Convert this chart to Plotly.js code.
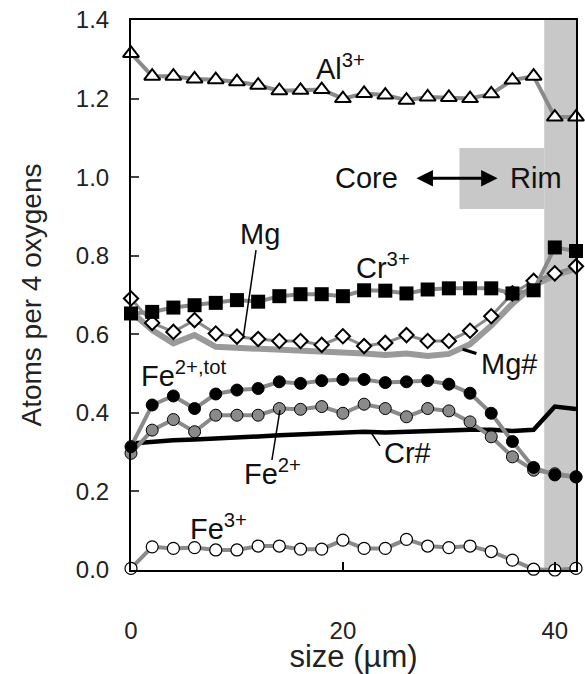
<!DOCTYPE html>
<html><head><meta charset="utf-8">
<script src="https://cdn.plot.ly/plotly-3.0.1.min.js"></script>
<style>body{margin:0;background:#fff}</style></head>
<body><div id="chart" style="width:585px;height:674px"></div>
<script>
const sizeUm = [0,2,4,6,8,10,12,14,16,18,20,22,24,26,28,30,32,34,36,38,40,42];
const al3 = [1.315,1.257,1.257,1.250,1.248,1.243,1.234,1.220,1.221,1.223,1.200,1.213,1.209,1.196,1.204,1.203,1.200,1.212,1.247,1.257,1.153,1.153];
const cr3 = [0.653,0.657,0.668,0.674,0.680,0.687,0.683,0.697,0.702,0.702,0.697,0.712,0.711,0.704,0.714,0.717,0.717,0.717,0.704,0.712,0.821,0.812];
const mg = [0.691,0.629,0.606,0.636,0.602,0.594,0.588,0.583,0.583,0.573,0.595,0.570,0.578,0.598,0.583,0.583,0.609,0.646,0.704,0.736,0.755,0.773];
const mgNum = [0.657,0.611,0.577,0.598,0.568,0.566,0.564,0.560,0.558,0.555,0.555,0.551,0.547,0.551,0.545,0.550,0.575,0.622,0.678,0.724,0.750,0.767];
const fe2tot = [0.314,0.420,0.443,0.411,0.448,0.458,0.462,0.479,0.475,0.482,0.485,0.485,0.477,0.479,0.482,0.473,0.450,0.399,0.327,0.261,0.242,0.237];
const fe2 = [0.297,0.356,0.383,0.352,0.394,0.394,0.394,0.411,0.409,0.416,0.399,0.422,0.411,0.390,0.411,0.405,0.377,0.339,0.288,0.254,0.245,0.237];
const crNum = [0.322,0.327,0.330,0.332,0.334,0.337,0.340,0.343,0.345,0.347,0.348,0.352,0.350,0.352,0.354,0.356,0.357,0.357,0.354,0.357,0.416,0.410];
const fe3 = [0.004,0.059,0.055,0.057,0.051,0.051,0.061,0.061,0.053,0.053,0.076,0.055,0.055,0.078,0.061,0.057,0.061,0.047,0.025,0.002,0.000,0.004];
const yTicks = [0,0.2,0.4,0.6,0.8,1.0,1.2,1.4];
const xTicks = [0,20,40];
const xTitle = 'size (µm)';
const yTitle = 'Atoms per 4 oxygens';

const FONT = 'Liberation Sans, Arial, sans-serif';
const G = '#8a8a8a';
function series(y, sym, size, fill, lw, lineCol, lineW){
  return {x:sizeUm, y:y, mode:'lines+markers', cliponaxis:false,
    line:{color:lineCol||G, width:lineW||4},
    marker:{symbol:sym, size:size, color:fill, line:{color:'#000', width:lw}}};
}
const fe3Trace = series(fe3,'circle',12,'#fff',1.2);
fe3Trace.xaxis = 'x2';
const traces = [
  {x:sizeUm, y:mgNum, mode:'lines', line:{color:'#9a9a9a', width:6}, cliponaxis:false},
  {x:sizeUm, y:crNum, mode:'lines', line:{color:'#000', width:4.5}, cliponaxis:false},
  series(al3,'triangle-up',14,'#fff',2),
  series(mg,'diamond',11,'#fff',2, G, 3),
  series(cr3,'square',14,'#000',0),
  series(fe2,'circle',12,G,1),
  series(fe2tot,'circle',12,'#000',1),
  fe3Trace
];
const AF = 29;
function ann(x,y,text,extra){
  return Object.assign({x:x,y:y,xref:'x',yref:'y',text:text,showarrow:false,
    font:{family:FONT,size:AF,color:'#111'},xanchor:'center',yanchor:'middle'}, extra||{});
}
const annotations = [
  ann(19.8,1.28,'Al<sup>3+</sup>'),
  ann(22.2,0.997,'Core'),
  ann(38.2,0.997,'Rim'),
  {x:34.6,y:0.997,ax:26.8,ay:0.997,axref:'x',ayref:'y',xref:'x',yref:'y',text:'',showarrow:true,
   arrowhead:2,startarrowhead:2,arrowside:'end+start',arrowwidth:3,arrowsize:1.1,startarrowsize:1.1,arrowcolor:'#000'},
  ann(12.2,0.855,'Mg'),
  ann(23.8,0.775,'Cr<sup>3+</sup>'),
  ann(35.7,0.525,'Mg#'),
  ann(5.0,0.50,'Fe<sup>2+,tot</sup>'),
  ann(13.4,0.25,'Fe<sup>2+</sup>'),
  ann(26.1,0.298,'Cr#'),
  ann(8.3,0.11,'Fe<sup>3+</sup>')
];
const shapes = [
  {type:'rect',xref:'x',yref:'paper',x0:39,x1:42,y0:0,y1:1,fillcolor:'#c8c8c8',line:{width:0},layer:'below'},
  {type:'rect',xref:'x',yref:'y',x0:31,x1:39,y0:0.919,y1:1.074,fillcolor:'#c8c8c8',line:{width:0},layer:'below'},
  {type:'line',xref:'x',yref:'y',x0:11.8,y0:0.814,x1:10.6,y1:0.593,line:{color:'#000',width:1.5}},
  {type:'line',xref:'x',yref:'y',x0:31.3,y0:0.562,x1:32.6,y1:0.551,line:{color:'#000',width:3}},
  {type:'line',xref:'x',yref:'y',x0:14.06,y0:0.407,x1:13.3,y1:0.280,line:{color:'#000',width:1.5}},
  {type:'line',xref:'x',yref:'y',x0:22.7,y0:0.348,x1:23.5,y1:0.316,line:{color:'#000',width:1.5}}
];
const layout = {
  width:585, height:674, showlegend:false,
  margin:{l:131,r:9,t:20,b:104},
  paper_bgcolor:'#fff', plot_bgcolor:'#fff',
  font:{family:FONT,size:20,color:'#222'},
  xaxis:{range:[0,42], tickvals:xTicks, ticktext:xTicks.map(String), ticks:'outside', ticklen:38, tickwidth:2,
    tickcolor:'rgba(0,0,0,0)',
    showline:true, linewidth:2, linecolor:'#000', mirror:true, showgrid:false, zeroline:false,
    tickfont:{family:FONT,size:24,color:'#222'},
    title:{text:xTitle, font:{family:FONT,size:31,color:'#222'}, standoff:0}},
  xaxis2:{range:[0,42], overlaying:'x', anchor:'y', side:'bottom', tickvals:xTicks, ticks:'inside', ticklen:8, tickwidth:2,
    tickcolor:'#000', showticklabels:false, showline:false, showgrid:false, zeroline:false},
  yaxis:{range:[0,1.4], tickvals:yTicks, ticktext:yTicks.map(v=>v.toFixed(1)), ticks:'inside', ticklen:8, tickwidth:2,
    showline:true, linewidth:2, linecolor:'#000', mirror:true, showgrid:false, zeroline:false,
    tickfont:{family:FONT,size:24,color:'#222'}, ticklabelstandoff:15,
    title:{text:yTitle, font:{family:FONT,size:28,color:'#222'}, standoff:26}},
  shapes:shapes, annotations:annotations
};
Plotly.newPlot('chart', traces, layout, {displayModeBar:false, staticPlot:true});
</script></body></html>
